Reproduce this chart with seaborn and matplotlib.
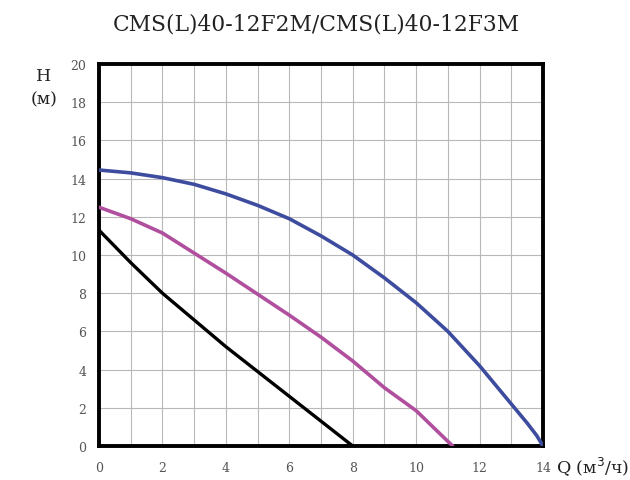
import matplotlib
matplotlib.use("Agg")
import matplotlib.pyplot as plt
import seaborn as sns
import pandas as pd

title = "CMS(L)40-12F2M/CMS(L)40-12F3M"

q_blue = [0, 1, 2, 3, 4, 5, 6, 7, 8, 9, 10, 11, 12, 13, 13.5, 13.8, 14]
h_blue = [14.45, 14.3, 14.05, 13.7, 13.2, 12.6, 11.9, 11.0, 10.0, 8.8, 7.5, 6.0, 4.2, 2.2, 1.2, 0.55, 0.0]

q_mag = [0, 1, 2, 3, 4, 5, 6, 7, 8, 9, 10, 11.15]
h_mag = [12.5, 11.9, 11.15, 10.1, 9.05, 7.95, 6.85, 5.7, 4.45, 3.05, 1.85, 0.0]

q_blk = [0, 1, 2, 3, 4, 5, 6, 7, 8]
h_blk = [11.3, 9.6, 8.0, 6.6, 5.2, 3.9, 2.6, 1.3, 0.0]

x_ticks = [0, 2, 4, 6, 8, 10, 12, 14]
y_ticks = [0, 2, 4, 6, 8, 10, 12, 14, 16, 18, 20]

sns.set_theme(style="white")
plt.rcParams["font.family"] = ["DejaVu Serif"]

fig = plt.figure(figsize=(6.3, 4.81), dpi=100)
ax = fig.add_axes([99/630, 1-447/481, (543-99)/630, (447-65)/481])

df = pd.concat([
    pd.DataFrame({"Q": q_blue, "H": h_blue, "s": "blue"}),
    pd.DataFrame({"Q": q_mag, "H": h_mag, "s": "mag"}),
    pd.DataFrame({"Q": q_blk, "H": h_blk, "s": "blk"}),
])
palette = {"blue": "#3d4c9e", "mag": "#b04f9e", "blk": "#000000"}
widths = {"blue": 2.6, "mag": 2.6, "blk": 2.4}
for s in ["blk", "mag", "blue"]:
    sub = df[df.s == s]
    sns.lineplot(data=sub, x="Q", y="H", ax=ax, color=palette[s], lw=widths[s],
                 sort=False, legend=False, zorder=3)

ax.set_xlim(0, 14)
ax.set_ylim(0, 20)
ax.set_xticks(range(0, 15))
ax.set_yticks(y_ticks)
ax.set_xticklabels([str(v) if v in x_ticks else "" for v in range(0, 15)])
ax.grid(True, color="#b8b8b8", lw=0.8)
ax.set_axisbelow(True)
for sp in ax.spines.values():
    sp.set_color("black")
    sp.set_linewidth(2.8)
ax.tick_params(axis="x", length=0, labelsize=9, colors="#555555", pad=11)
ax.tick_params(axis="y", length=0, labelsize=9, colors="#555555", pad=9)
ax.set_xlabel("")
ax.set_ylabel("")

fig.text(0.502, 1-24/481, title, ha="center", va="center", fontsize=15.7, color="#222222")
fig.text(44/630, 1-77/481, "H", ha="center", va="center", fontsize=12.5, color="#222222")
fig.text(44/630, 1-100/481, "(м)", ha="center", va="center", fontsize=12.5, color="#222222")
fig.text(556/630, 1-467/481, "Q (м$^3$/ч)", ha="left", va="center", fontsize=12.5, color="#222222")

fig.savefig("out.png", dpi=100)
